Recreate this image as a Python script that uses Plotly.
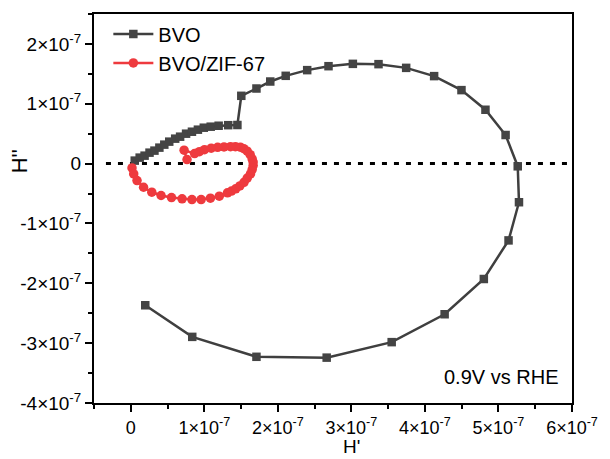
import plotly.graph_objects as go

SCALE = 1e-7

# BVO series (units of 1e-7)
bvo_x = [0.054, 0.121, 0.188, 0.255, 0.322, 0.389, 0.456, 0.523, 0.604, 0.671,
         0.752, 0.832, 0.913, 0.993, 1.087, 1.195, 1.325, 1.45,
         1.503, 1.709, 1.897, 2.107, 2.399, 2.689, 3.02, 3.369, 3.745, 4.125,
         4.497, 4.823, 5.097, 5.262, 5.279, 5.137, 4.801, 4.268, 3.548, 2.664,
         1.709, 0.836, 0.197]
bvo_y = [0.05, 0.10, 0.133, 0.183, 0.217, 0.267, 0.317, 0.367, 0.417, 0.45,
         0.50, 0.533, 0.567, 0.60, 0.617, 0.633, 0.642, 0.645,
         1.133, 1.255, 1.372, 1.467, 1.562, 1.628, 1.667, 1.662, 1.60, 1.462,
         1.228, 0.90, 0.478, -0.045, -0.645, -1.283, -1.928, -2.517, -2.983, -3.242,
         -3.228, -2.895, -2.367]

# BVO/ZIF-67 series (units of 1e-7)
zif_x = [0.017, 0.040, 0.085, 0.174, 0.286, 0.412, 0.554, 0.698, 0.832, 0.957,
         1.083, 1.204, 1.315, 1.369, 1.427, 1.483, 1.540, 1.584, 1.628, 1.651,
         1.664, 1.664, 1.651, 1.624, 1.584, 1.537, 1.49, 1.423, 1.356, 1.268,
         1.181, 1.094, 1.003, 0.933, 0.868, 0.725, 0.765]
zif_y = [-0.072, -0.172, -0.283, -0.395, -0.478, -0.533, -0.567, -0.588, -0.60, -0.60,
         -0.578, -0.545, -0.488, -0.458, -0.422, -0.372, -0.312, -0.242, -0.172, -0.10,
         -0.033, 0.025, 0.078, 0.15, 0.208, 0.25, 0.275, 0.283, 0.283, 0.278,
         0.272, 0.258, 0.233, 0.20, 0.167, 0.225, 0.067]

x_ticks = [0, 1, 2, 3, 4, 5, 6]
x_ticktext = ["0", "1×10<sup>-7</sup>", "2×10<sup>-7</sup>", "3×10<sup>-7</sup>",
              "4×10<sup>-7</sup>", "5×10<sup>-7</sup>", "6×10<sup>-7</sup>"]
x_minor = [-0.5, 0.5, 1.5, 2.5, 3.5, 4.5, 5.5]
y_ticks = [-4, -3, -2, -1, 0, 1, 2]
y_ticktext = ["-4×10<sup>-7</sup>", "-3×10<sup>-7</sup>", "-2×10<sup>-7</sup>",
              "-1×10<sup>-7</sup>", "0", "1×10<sup>-7</sup>", "2×10<sup>-7</sup>"]
y_minor = [-3.5, -2.5, -1.5, -0.5, 0.5, 1.5, 2.5]

FONT = "Liberation Sans, Arial, sans-serif"

fig = go.Figure()
fig.add_trace(go.Scatter(
    x=[v * SCALE for v in bvo_x], y=[v * SCALE for v in bvo_y],
    mode="lines+markers", name="BVO",
    line=dict(color="#3f3f3f", width=2.5),
    marker=dict(symbol="square", size=8.5, color="#444444"),
))
fig.add_trace(go.Scatter(
    x=[v * SCALE for v in zif_x], y=[v * SCALE for v in zif_y],
    mode="lines+markers", name="BVO/ZIF-67",
    line=dict(color="#ee3a3e", width=2.5),
    marker=dict(symbol="circle", size=9.5, color="#ee3a3e"),
))

fig.add_shape(type="line", xref="paper", yref="y", x0=0.025, x1=1, y0=0, y1=0,
              line=dict(color="black", width=3, dash="5px,7px"), layer="below")

axis_common = dict(
    showline=True, linecolor="black", linewidth=2, mirror=True,
    ticks="outside", ticklen=7, tickwidth=2, tickcolor="black",
    showgrid=False, zeroline=False,
)

fig.update_xaxes(
    range=[-0.5 * SCALE, 6 * SCALE],
    tickmode="array", tickvals=[v * SCALE for v in x_ticks], ticktext=x_ticktext,
    tickfont=dict(family=FONT, size=18, color="black"),
    minor=dict(tickvals=[v * SCALE for v in x_minor], ticks="outside", ticklen=4,
               tickwidth=2, tickcolor="black"),
    **axis_common,
)
fig.update_yaxes(
    range=[-4 * SCALE, 2.5 * SCALE],
    tickmode="array", tickvals=[v * SCALE for v in y_ticks], ticktext=y_ticktext,
    tickfont=dict(family=FONT, size=19, color="black"),
    minor=dict(tickvals=[v * SCALE for v in y_minor], ticks="outside", ticklen=4,
               tickwidth=2, tickcolor="black"),
    **axis_common,
)

fig.add_annotation(text="H'", xref="paper", yref="paper", x=0.539, y=-0.1425,
                   xanchor="center", yanchor="bottom", showarrow=False,
                   borderpad=0,
                   font=dict(family=FONT, size=19, color="black"))
fig.add_annotation(text="H''", xref="paper", yref="paper", x=-0.155, y=0.621,
                   xanchor="center", yanchor="middle", showarrow=False, textangle=-90,
                   font=dict(family=FONT, size=22, color="black"))
fig.add_annotation(text="0.9V vs RHE", xref="paper", yref="paper", x=0.975, y=0.068,
                   xanchor="right", yanchor="middle", showarrow=False,
                   font=dict(family=FONT, size=20, color="black"))

fig.update_layout(
    width=610, height=459,
    margin=dict(l=94, r=32, t=12, b=56),
    paper_bgcolor="white", plot_bgcolor="white",
    showlegend=True,
    legend=dict(x=0.03, y=0.999, xanchor="left", yanchor="top",
                bgcolor="rgba(0,0,0,0)", borderwidth=0,
                font=dict(family=FONT, size=20, color="black"),
                tracegroupgap=0, itemwidth=40),
)

fig.write_html("out.html")
